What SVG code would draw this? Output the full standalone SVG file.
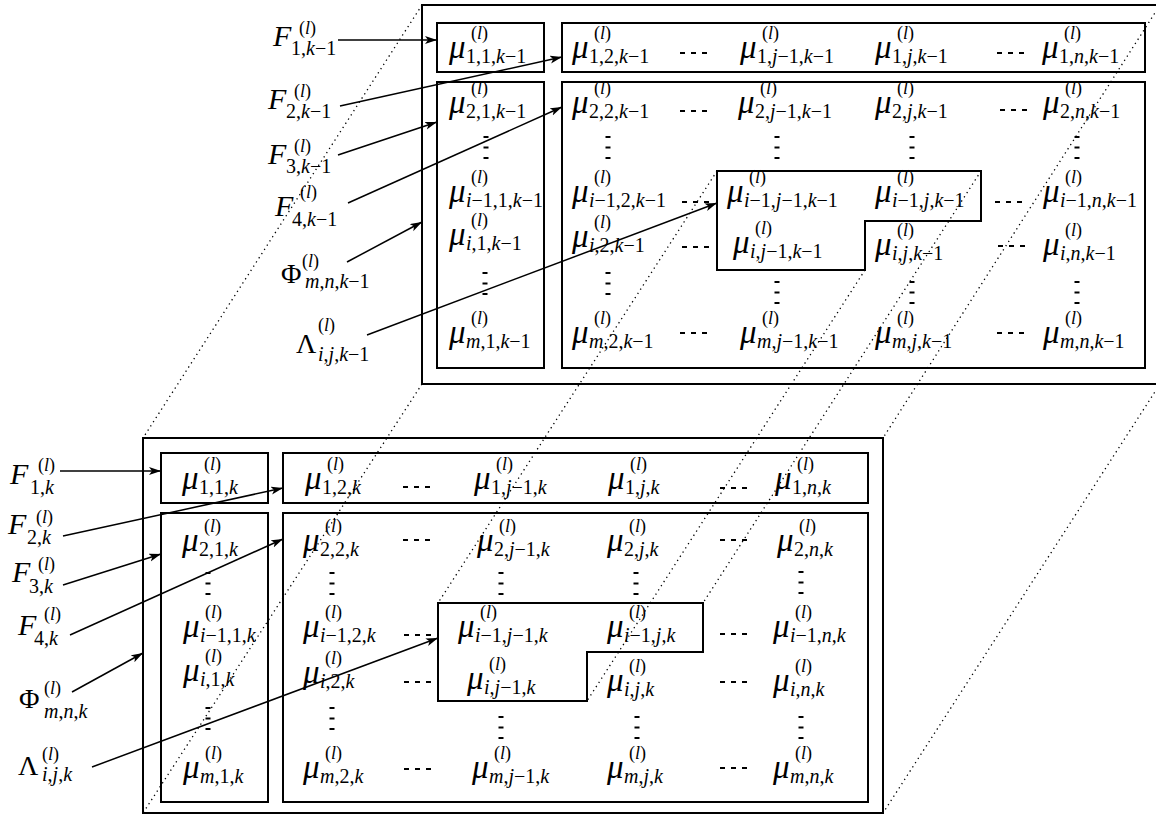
<svg xmlns="http://www.w3.org/2000/svg" width="1156" height="816" viewBox="0 0 1156 816">
<style>
  .frame, .box { fill: none; stroke: #000; stroke-width: 2; }
  .arrow { fill: none; stroke: #000; stroke-width: 1.5; marker-end: url(#ah); }
  .proj { fill: none; stroke: #000; stroke-width: 1.3; stroke-dasharray: 1.3 3.7; }
  text { font-family: "Liberation Serif", "Times New Roman", serif; fill: #000; }
  .mu { font-size: 33px; font-style: italic; }
  .fl { font-size: 30px; font-style: italic; }
  .gk { font-size: 28px; }
  .sb { font-size: 20px; }
  .sp { font-size: 18px; }
  .i { font-style: italic; }
</style>
<defs>
  <marker id="ah" markerUnits="userSpaceOnUse" markerWidth="13" markerHeight="9" refX="12" refY="4" orient="auto">
    <path d="M0,0 L12,4 L0,8 L3,4 z" fill="#000"/>
  </marker>
  <g id="hd"><rect x="0" y="-1" width="5" height="2"/><rect x="11" y="-1" width="5" height="2"/><rect x="22" y="-1" width="5" height="2"/></g>
  <g id="vd"><rect x="-2.5" y="-1" width="5" height="2"/><rect x="-2.5" y="9.5" width="5" height="2"/><rect x="-2.5" y="20" width="5" height="2"/></g>
</defs>
<rect width="1156" height="816" fill="#fff"/>

<!-- projection lines between the two layers and the arrows -->
<g id="connectors">
  <line class="proj" x1="422" y1="5" x2="143" y2="438"/>
  <line class="proj" x1="1160" y1="5" x2="883" y2="438"/>
  <line class="proj" x1="717" y1="171" x2="438" y2="603"/>
  <line class="proj" x1="981" y1="171" x2="703" y2="603"/>
  <line class="proj" x1="865" y1="270" x2="587" y2="701"/>
  <line class="proj" x1="1160" y1="384" x2="883" y2="813"/>
  <line class="proj" x1="422" y1="384" x2="143" y2="813"/>

  <line class="arrow" x1="338" y1="40" x2="437" y2="40"/>
  <line class="arrow" x1="340" y1="106" x2="562" y2="57"/>
  <line class="arrow" x1="338" y1="155" x2="437" y2="122"/>
  <line class="arrow" x1="348" y1="203" x2="562" y2="107"/>
  <line class="arrow" x1="347" y1="262" x2="422" y2="222"/>
  <line class="arrow" x1="367" y1="335" x2="717" y2="203"/>

  <line class="arrow" x1="60" y1="471" x2="161" y2="471"/>
  <line class="arrow" x1="63" y1="536" x2="283" y2="488"/>
  <line class="arrow" x1="63" y1="585" x2="161" y2="554"/>
  <line class="arrow" x1="70" y1="635" x2="283" y2="539"/>
  <line class="arrow" x1="72" y1="692" x2="143" y2="653"/>
  <line class="arrow" x1="92" y1="767" x2="438" y2="638"/>
</g>

<!-- layer k-1 -->
<g id="layer-prev">
  <rect id="frame-prev" class="frame" x="422" y="5" width="738" height="379"/>
  <rect id="box-prev-a" class="box" x="437" y="23" width="107" height="49"/>
  <rect id="box-prev-b" class="box" x="562" y="23" width="583" height="49"/>
  <rect id="box-prev-c" class="box" x="437" y="82" width="107" height="286"/>
  <rect id="box-prev-d" class="box" x="562" y="82" width="583" height="286"/>
  <path id="nbhd-prev" class="box" d="M717,171 H981 V221 H865 V270 H717 Z"/>
  <g id="dots-prev">
    <use href="#hd" x="680" y="53"/><use href="#hd" x="997" y="53"/>
    <use href="#hd" x="680" y="111"/><use href="#hd" x="1000" y="110"/>
    <use href="#hd" x="682" y="202"/><use href="#hd" x="995" y="202"/>
    <use href="#hd" x="682" y="247"/><use href="#hd" x="998" y="246"/>
    <use href="#hd" x="680" y="333"/><use href="#hd" x="997" y="333"/>
    <use href="#vd" x="486" y="137"/><use href="#vd" x="608" y="137"/><use href="#vd" x="777" y="137"/><use href="#vd" x="912" y="137"/><use href="#vd" x="1077" y="137"/>
    <use href="#vd" x="485" y="273"/><use href="#vd" x="608" y="273"/><use href="#vd" x="777" y="282"/><use href="#vd" x="912" y="282"/><use href="#vd" x="1077" y="282"/>
  </g>
  <!-- row 1 -->
  <g id="mu-p-1-1"><text class="mu" x="449" y="58">μ</text><text class="sp" x="471" y="39">(<tspan class="i">l</tspan>)</text><text class="sb" x="466" y="63">1,1,<tspan class="i">k</tspan>−1</text></g>
  <g id="mu-p-1-2"><text class="mu" x="572" y="58">μ</text><text class="sp" x="594" y="39">(<tspan class="i">l</tspan>)</text><text class="sb" x="589" y="63">1,2,<tspan class="i">k</tspan>−1</text></g>
  <g id="mu-p-1-j1"><text class="mu" x="740" y="58">μ</text><text class="sp" x="762" y="39">(<tspan class="i">l</tspan>)</text><text class="sb" x="757" y="63">1,<tspan class="i">j</tspan>−1,<tspan class="i">k</tspan>−1</text></g>
  <g id="mu-p-1-j"><text class="mu" x="875" y="58">μ</text><text class="sp" x="897" y="39">(<tspan class="i">l</tspan>)</text><text class="sb" x="892" y="63">1,<tspan class="i">j</tspan>,<tspan class="i">k</tspan>−1</text></g>
  <g id="mu-p-1-n"><text class="mu" x="1042" y="58">μ</text><text class="sp" x="1064" y="39">(<tspan class="i">l</tspan>)</text><text class="sb" x="1059" y="63">1,<tspan class="i">n</tspan>,<tspan class="i">k</tspan>−1</text></g>
  <!-- row 2 -->
  <g id="mu-p-2-1"><text class="mu" x="449" y="113">μ</text><text class="sp" x="471" y="94">(<tspan class="i">l</tspan>)</text><text class="sb" x="466" y="118">2,1,<tspan class="i">k</tspan>−1</text></g>
  <g id="mu-p-2-2"><text class="mu" x="572" y="113">μ</text><text class="sp" x="594" y="94">(<tspan class="i">l</tspan>)</text><text class="sb" x="589" y="118">2,2,<tspan class="i">k</tspan>−1</text></g>
  <g id="mu-p-2-j1"><text class="mu" x="738" y="113">μ</text><text class="sp" x="760" y="94">(<tspan class="i">l</tspan>)</text><text class="sb" x="755" y="118">2,<tspan class="i">j</tspan>−1,<tspan class="i">k</tspan>−1</text></g>
  <g id="mu-p-2-j"><text class="mu" x="875" y="113">μ</text><text class="sp" x="897" y="94">(<tspan class="i">l</tspan>)</text><text class="sb" x="892" y="118">2,<tspan class="i">j</tspan>,<tspan class="i">k</tspan>−1</text></g>
  <g id="mu-p-2-n"><text class="mu" x="1043" y="113">μ</text><text class="sp" x="1065" y="94">(<tspan class="i">l</tspan>)</text><text class="sb" x="1060" y="118">2,<tspan class="i">n</tspan>,<tspan class="i">k</tspan>−1</text></g>
  <!-- row i-1 -->
  <g id="mu-p-i1-1"><text class="mu" x="449" y="202">μ</text><text class="sp" x="471" y="183">(<tspan class="i">l</tspan>)</text><text class="sb" x="466" y="207"><tspan class="i">i</tspan>−1,1,<tspan class="i">k</tspan>−1</text></g>
  <g id="mu-p-i1-2"><text class="mu" x="572" y="202">μ</text><text class="sp" x="594" y="183">(<tspan class="i">l</tspan>)</text><text class="sb" x="589" y="207"><tspan class="i">i</tspan>−1,2,<tspan class="i">k</tspan>−1</text></g>
  <g id="mu-p-i1-j1"><text class="mu" x="727" y="202">μ</text><text class="sp" x="749" y="183">(<tspan class="i">l</tspan>)</text><text class="sb" x="744" y="207"><tspan class="i">i</tspan>−1,<tspan class="i">j</tspan>−1,<tspan class="i">k</tspan>−1</text></g>
  <g id="mu-p-i1-j"><text class="mu" x="875" y="202">μ</text><text class="sp" x="897" y="183">(<tspan class="i">l</tspan>)</text><text class="sb" x="892" y="207"><tspan class="i">i</tspan>−1,<tspan class="i">j</tspan>,<tspan class="i">k</tspan>−1</text></g>
  <g id="mu-p-i1-n"><text class="mu" x="1043" y="202">μ</text><text class="sp" x="1065" y="183">(<tspan class="i">l</tspan>)</text><text class="sb" x="1060" y="207"><tspan class="i">i</tspan>−1,<tspan class="i">n</tspan>,<tspan class="i">k</tspan>−1</text></g>
  <!-- row i -->
  <g id="mu-p-i-1"><text class="mu" x="449" y="245">μ</text><text class="sp" x="471" y="226">(<tspan class="i">l</tspan>)</text><text class="sb" x="466" y="250"><tspan class="i">i</tspan>,1,<tspan class="i">k</tspan>−1</text></g>
  <g id="mu-p-i-2"><text class="mu" x="572" y="247">μ</text><text class="sp" x="594" y="228">(<tspan class="i">l</tspan>)</text><text class="sb" x="589" y="252"><tspan class="i">i</tspan>,2,<tspan class="i">k</tspan>−1</text></g>
  <g id="mu-p-i-j1"><text class="mu" x="733" y="253">μ</text><text class="sp" x="755" y="234">(<tspan class="i">l</tspan>)</text><text class="sb" x="750" y="258"><tspan class="i">i</tspan>,<tspan class="i">j</tspan>−1,<tspan class="i">k</tspan>−1</text></g>
  <g id="mu-p-i-j"><text class="mu" x="875" y="255">μ</text><text class="sp" x="897" y="236">(<tspan class="i">l</tspan>)</text><text class="sb" x="892" y="260"><tspan class="i">i</tspan>,<tspan class="i">j</tspan>,<tspan class="i">k</tspan>−1</text></g>
  <g id="mu-p-i-n"><text class="mu" x="1043" y="255">μ</text><text class="sp" x="1065" y="236">(<tspan class="i">l</tspan>)</text><text class="sb" x="1060" y="260"><tspan class="i">i</tspan>,<tspan class="i">n</tspan>,<tspan class="i">k</tspan>−1</text></g>
  <!-- row m -->
  <g id="mu-p-m-1"><text class="mu" x="449" y="343">μ</text><text class="sp" x="471" y="324">(<tspan class="i">l</tspan>)</text><text class="sb" x="466" y="348"><tspan class="i">m</tspan>,1,<tspan class="i">k</tspan>−1</text></g>
  <g id="mu-p-m-2"><text class="mu" x="572" y="343">μ</text><text class="sp" x="594" y="324">(<tspan class="i">l</tspan>)</text><text class="sb" x="589" y="348"><tspan class="i">m</tspan>,2,<tspan class="i">k</tspan>−1</text></g>
  <g id="mu-p-m-j1"><text class="mu" x="740" y="343">μ</text><text class="sp" x="762" y="324">(<tspan class="i">l</tspan>)</text><text class="sb" x="757" y="348"><tspan class="i">m</tspan>,<tspan class="i">j</tspan>−1,<tspan class="i">k</tspan>−1</text></g>
  <g id="mu-p-m-j"><text class="mu" x="875" y="343">μ</text><text class="sp" x="897" y="324">(<tspan class="i">l</tspan>)</text><text class="sb" x="892" y="348"><tspan class="i">m</tspan>,<tspan class="i">j</tspan>,<tspan class="i">k</tspan>−1</text></g>
  <g id="mu-p-m-n"><text class="mu" x="1043" y="343">μ</text><text class="sp" x="1065" y="324">(<tspan class="i">l</tspan>)</text><text class="sb" x="1060" y="348"><tspan class="i">m</tspan>,<tspan class="i">n</tspan>,<tspan class="i">k</tspan>−1</text></g>
</g>

<!-- layer k -->
<g id="layer-cur">
  <rect id="frame-cur" class="frame" x="143" y="438" width="740" height="375"/>
  <rect id="box-cur-a" class="box" x="161" y="453" width="107" height="50"/>
  <rect id="box-cur-b" class="box" x="283" y="453" width="585" height="50"/>
  <rect id="box-cur-c" class="box" x="161" y="513" width="107" height="289"/>
  <rect id="box-cur-d" class="box" x="283" y="513" width="585" height="289"/>
  <path id="nbhd-cur" class="box" d="M438,603 H703 V652 H587 V701 H438 Z"/>
  <g id="dots-cur">
    <use href="#hd" x="403" y="487"/><use href="#hd" x="720" y="488"/>
    <use href="#hd" x="403" y="540"/><use href="#hd" x="720" y="540"/>
    <use href="#hd" x="404" y="635"/><use href="#hd" x="720" y="634"/>
    <use href="#hd" x="404" y="682"/><use href="#hd" x="720" y="682"/>
    <use href="#hd" x="404" y="769"/><use href="#hd" x="720" y="768"/>
    <use href="#vd" x="208" y="573"/><use href="#vd" x="332" y="573"/><use href="#vd" x="501" y="573"/><use href="#vd" x="636" y="573"/><use href="#vd" x="801" y="572"/>
    <use href="#vd" x="208" y="708"/><use href="#vd" x="332" y="708"/><use href="#vd" x="501" y="717"/><use href="#vd" x="637" y="717"/><use href="#vd" x="801" y="717"/>
  </g>
  <!-- row 1 -->
  <g id="mu-c-1-1"><text class="mu" x="182" y="489">μ</text><text class="sp" x="204" y="470">(<tspan class="i">l</tspan>)</text><text class="sb" x="199" y="494">1,1,<tspan class="i">k</tspan></text></g>
  <g id="mu-c-1-2"><text class="mu" x="305" y="489">μ</text><text class="sp" x="327" y="470">(<tspan class="i">l</tspan>)</text><text class="sb" x="322" y="494">1,2,<tspan class="i">k</tspan></text></g>
  <g id="mu-c-1-j1"><text class="mu" x="474" y="489">μ</text><text class="sp" x="496" y="470">(<tspan class="i">l</tspan>)</text><text class="sb" x="491" y="494">1,<tspan class="i">j</tspan>−1,<tspan class="i">k</tspan></text></g>
  <g id="mu-c-1-j"><text class="mu" x="608" y="489">μ</text><text class="sp" x="630" y="470">(<tspan class="i">l</tspan>)</text><text class="sb" x="625" y="494">1,<tspan class="i">j</tspan>,<tspan class="i">k</tspan></text></g>
  <g id="mu-c-1-n"><text class="mu" x="775" y="489">μ</text><text class="sp" x="797" y="470">(<tspan class="i">l</tspan>)</text><text class="sb" x="792" y="494">1,<tspan class="i">n</tspan>,<tspan class="i">k</tspan></text></g>
  <!-- row 2 -->
  <g id="mu-c-2-1"><text class="mu" x="182" y="551">μ</text><text class="sp" x="204" y="532">(<tspan class="i">l</tspan>)</text><text class="sb" x="199" y="556">2,1,<tspan class="i">k</tspan></text></g>
  <g id="mu-c-2-2"><text class="mu" x="303" y="551">μ</text><text class="sp" x="325" y="532">(<tspan class="i">l</tspan>)</text><text class="sb" x="320" y="556">2,2,<tspan class="i">k</tspan></text></g>
  <g id="mu-c-2-j1"><text class="mu" x="477" y="551">μ</text><text class="sp" x="499" y="532">(<tspan class="i">l</tspan>)</text><text class="sb" x="494" y="556">2,<tspan class="i">j</tspan>−1,<tspan class="i">k</tspan></text></g>
  <g id="mu-c-2-j"><text class="mu" x="607" y="551">μ</text><text class="sp" x="629" y="532">(<tspan class="i">l</tspan>)</text><text class="sb" x="624" y="556">2,<tspan class="i">j</tspan>,<tspan class="i">k</tspan></text></g>
  <g id="mu-c-2-n"><text class="mu" x="777" y="551">μ</text><text class="sp" x="799" y="532">(<tspan class="i">l</tspan>)</text><text class="sb" x="794" y="556">2,<tspan class="i">n</tspan>,<tspan class="i">k</tspan></text></g>
  <!-- row i-1 -->
  <g id="mu-c-i1-1"><text class="mu" x="183" y="637">μ</text><text class="sp" x="205" y="618">(<tspan class="i">l</tspan>)</text><text class="sb" x="200" y="642"><tspan class="i">i</tspan>−1,1,<tspan class="i">k</tspan></text></g>
  <g id="mu-c-i1-2"><text class="mu" x="303" y="637">μ</text><text class="sp" x="325" y="618">(<tspan class="i">l</tspan>)</text><text class="sb" x="320" y="642"><tspan class="i">i</tspan>−1,2,<tspan class="i">k</tspan></text></g>
  <g id="mu-c-i1-j1"><text class="mu" x="458" y="637">μ</text><text class="sp" x="480" y="618">(<tspan class="i">l</tspan>)</text><text class="sb" x="475" y="642"><tspan class="i">i</tspan>−1,<tspan class="i">j</tspan>−1,<tspan class="i">k</tspan></text></g>
  <g id="mu-c-i1-j"><text class="mu" x="607" y="637">μ</text><text class="sp" x="629" y="618">(<tspan class="i">l</tspan>)</text><text class="sb" x="624" y="642"><tspan class="i">i</tspan>−1,<tspan class="i">j</tspan>,<tspan class="i">k</tspan></text></g>
  <g id="mu-c-i1-n"><text class="mu" x="773" y="637">μ</text><text class="sp" x="795" y="618">(<tspan class="i">l</tspan>)</text><text class="sb" x="790" y="642"><tspan class="i">i</tspan>−1,<tspan class="i">n</tspan>,<tspan class="i">k</tspan></text></g>
  <!-- row i -->
  <g id="mu-c-i-1"><text class="mu" x="183" y="681">μ</text><text class="sp" x="205" y="662">(<tspan class="i">l</tspan>)</text><text class="sb" x="200" y="686"><tspan class="i">i</tspan>,1,<tspan class="i">k</tspan></text></g>
  <g id="mu-c-i-2"><text class="mu" x="303" y="683">μ</text><text class="sp" x="325" y="664">(<tspan class="i">l</tspan>)</text><text class="sb" x="320" y="688"><tspan class="i">i</tspan>,2,<tspan class="i">k</tspan></text></g>
  <g id="mu-c-i-j1"><text class="mu" x="467" y="689">μ</text><text class="sp" x="489" y="670">(<tspan class="i">l</tspan>)</text><text class="sb" x="484" y="694"><tspan class="i">i</tspan>,<tspan class="i">j</tspan>−1,<tspan class="i">k</tspan></text></g>
  <g id="mu-c-i-j"><text class="mu" x="607" y="691">μ</text><text class="sp" x="629" y="672">(<tspan class="i">l</tspan>)</text><text class="sb" x="624" y="696"><tspan class="i">i</tspan>,<tspan class="i">j</tspan>,<tspan class="i">k</tspan></text></g>
  <g id="mu-c-i-n"><text class="mu" x="773" y="691">μ</text><text class="sp" x="795" y="672">(<tspan class="i">l</tspan>)</text><text class="sb" x="790" y="696"><tspan class="i">i</tspan>,<tspan class="i">n</tspan>,<tspan class="i">k</tspan></text></g>
  <!-- row m -->
  <g id="mu-c-m-1"><text class="mu" x="183" y="778">μ</text><text class="sp" x="205" y="759">(<tspan class="i">l</tspan>)</text><text class="sb" x="200" y="783"><tspan class="i">m</tspan>,1,<tspan class="i">k</tspan></text></g>
  <g id="mu-c-m-2"><text class="mu" x="303" y="778">μ</text><text class="sp" x="325" y="759">(<tspan class="i">l</tspan>)</text><text class="sb" x="320" y="783"><tspan class="i">m</tspan>,2,<tspan class="i">k</tspan></text></g>
  <g id="mu-c-m-j1"><text class="mu" x="472" y="778">μ</text><text class="sp" x="494" y="759">(<tspan class="i">l</tspan>)</text><text class="sb" x="489" y="783"><tspan class="i">m</tspan>,<tspan class="i">j</tspan>−1,<tspan class="i">k</tspan></text></g>
  <g id="mu-c-m-j"><text class="mu" x="607" y="778">μ</text><text class="sp" x="629" y="759">(<tspan class="i">l</tspan>)</text><text class="sb" x="624" y="783"><tspan class="i">m</tspan>,<tspan class="i">j</tspan>,<tspan class="i">k</tspan></text></g>
  <g id="mu-c-m-n"><text class="mu" x="773" y="778">μ</text><text class="sp" x="795" y="759">(<tspan class="i">l</tspan>)</text><text class="sb" x="790" y="783"><tspan class="i">m</tspan>,<tspan class="i">n</tspan>,<tspan class="i">k</tspan></text></g>
</g>

<!-- input labels, layer k-1 -->
<g id="in-prev">
  <g id="F1-prev"><text class="fl" x="273" y="46">F</text><text class="sp" x="299" y="34">(<tspan class="i">l</tspan>)</text><text class="sb" x="291" y="55">1,<tspan class="i">k</tspan>−1</text></g>
  <g id="F2-prev"><text class="fl" x="268" y="109">F</text><text class="sp" x="294" y="97">(<tspan class="i">l</tspan>)</text><text class="sb" x="286" y="118">2,<tspan class="i">k</tspan>−1</text></g>
  <g id="F3-prev"><text class="fl" x="268" y="164">F</text><text class="sp" x="294" y="152">(<tspan class="i">l</tspan>)</text><text class="sb" x="286" y="173">3,<tspan class="i">k</tspan>−1</text></g>
  <g id="F4-prev"><text class="fl" x="275" y="216">F</text><text class="sp" x="300" y="198">(<tspan class="i">l</tspan>)</text><text class="sb" x="292" y="226">4,<tspan class="i">k</tspan>−1</text></g>
  <g id="Phi-prev"><text class="gk" x="281" y="283">Φ</text><text class="sp" x="302" y="267">(<tspan class="i">l</tspan>)</text><text class="sb" x="305" y="288"><tspan class="i">m</tspan>,<tspan class="i">n</tspan>,<tspan class="i">k</tspan>−1</text></g>
  <g id="Lam-prev"><text class="gk" x="296" y="353">Λ</text><text class="sp" x="318" y="331">(<tspan class="i">l</tspan>)</text><text class="sb" x="318" y="361"><tspan class="i">i</tspan>,<tspan class="i">j</tspan>,<tspan class="i">k</tspan>−1</text></g>
</g>

<!-- input labels, layer k -->
<g id="in-cur">
  <g id="F1-cur"><text class="fl" x="10" y="484">F</text><text class="sp" x="38" y="471">(<tspan class="i">l</tspan>)</text><text class="sb" x="30" y="494">1,<tspan class="i">k</tspan></text></g>
  <g id="F2-cur"><text class="fl" x="8" y="534">F</text><text class="sp" x="36" y="523">(<tspan class="i">l</tspan>)</text><text class="sb" x="27" y="544">2,<tspan class="i">k</tspan></text></g>
  <g id="F3-cur"><text class="fl" x="12" y="582">F</text><text class="sp" x="38" y="570">(<tspan class="i">l</tspan>)</text><text class="sb" x="29" y="593">3,<tspan class="i">k</tspan></text></g>
  <g id="F4-cur"><text class="fl" x="18" y="635">F</text><text class="sp" x="44" y="620">(<tspan class="i">l</tspan>)</text><text class="sb" x="34" y="645">4,<tspan class="i">k</tspan></text></g>
  <g id="Phi-cur"><text class="gk" x="19" y="708">Φ</text><text class="sp" x="44" y="694">(<tspan class="i">l</tspan>)</text><text class="sb" x="44" y="718"><tspan class="i">m</tspan>,<tspan class="i">n</tspan>,<tspan class="i">k</tspan></text></g>
  <g id="Lam-cur"><text class="gk" x="18" y="775">Λ</text><text class="sp" x="42" y="760">(<tspan class="i">l</tspan>)</text><text class="sb" x="42" y="781"><tspan class="i">i</tspan>,<tspan class="i">j</tspan>,<tspan class="i">k</tspan></text></g>
</g>
</svg>
